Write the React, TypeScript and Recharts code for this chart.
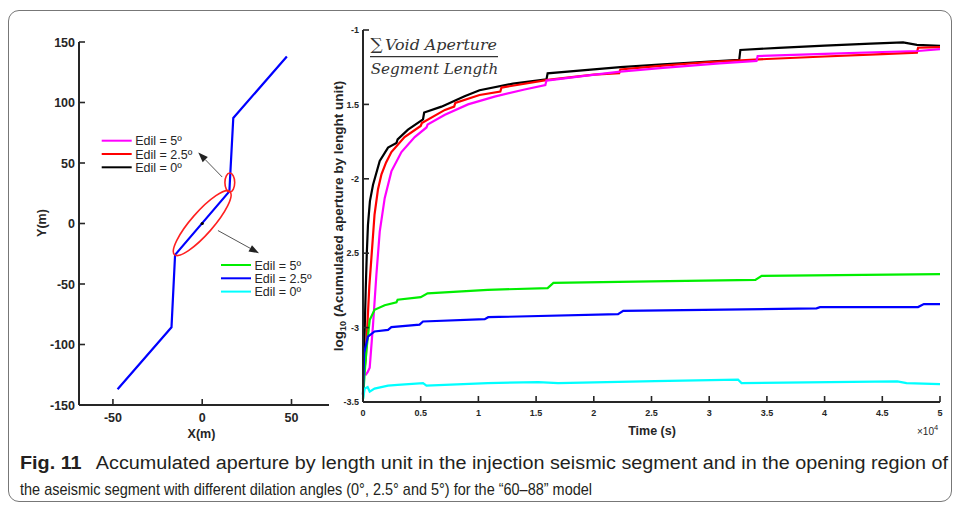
import { LineChart, Line, XAxis, YAxis, ReferenceDot, ReferenceLine } from "recharts";

const INK = "#262626";
const SANS = "'Liberation Sans', Arial, sans-serif";
const TICK_LEN = 6;

// plan view of the fault trace (m)
const faultX = [-47.4, -17.2, -15.2, 15.2, 17.4, 47.4];
const faultY = [-137, -85.7, -25.9, 26.5, 87.2, 138];
const faultTicksX = [-50, 0, 50];
const faultTicksY = [-150, -100, -50, 0, 50, 100, 150];

// time axis in units of 1e4 s
const timeTicks = [0, 0.5, 1, 1.5, 2, 2.5, 3, 3.5, 4, 4.5, 5];
const apertureTicks = [-3.5, -3, -2.5, -2, -1.5, -1];
const apertureTickLabels = ["-3.5", "-3", "2.5", "-2", "1.5", "-1"];

// opening region of the aseismic segment
const opening0T = [0, 0.006, 0.015, 0.023, 0.033, 0.043, 0.06, 0.087, 0.145, 0.217, 0.29, 0.3, 0.39, 0.52, 0.53, 0.68, 0.88, 1.01, 1.3, 1.59, 1.6, 2.0, 2.23, 2.6, 3.0, 3.26, 3.27, 3.6, 4.0, 4.4, 4.68, 4.8, 5.0];
const opening0V = [-3.45, -3.3, -3.0, -2.76, -2.5, -2.31, -2.15, -2.04, -1.88, -1.79, -1.76, -1.735, -1.67, -1.6, -1.555, -1.515, -1.445, -1.405, -1.36, -1.331, -1.291, -1.265, -1.25, -1.23, -1.212, -1.2, -1.134, -1.12, -1.105, -1.092, -1.083, -1.1, -1.107];

const opening25T = [0.01, 0.025, 0.038, 0.055, 0.073, 0.1, 0.13, 0.16, 0.2, 0.246, 0.36, 0.5, 0.51, 0.71, 0.79, 0.8, 1.01, 1.19, 1.2, 1.6, 2.0, 2.22, 2.23, 2.6, 3.0, 3.5, 4.0, 4.5, 4.8, 4.81, 5.0];
const opening25V = [-3.3, -3.2, -2.98, -2.72, -2.53, -2.24, -2.07, -1.97, -1.89, -1.82, -1.72, -1.645, -1.625, -1.537, -1.515, -1.49, -1.437, -1.414, -1.387, -1.335, -1.3, -1.29, -1.265, -1.24, -1.215, -1.195, -1.178, -1.162, -1.152, -1.119, -1.115];

const opening5T = [0.02, 0.04, 0.058, 0.07, 0.087, 0.116, 0.145, 0.188, 0.246, 0.333, 0.448, 0.55, 0.56, 0.71, 0.91, 1.14, 1.4, 1.58, 1.59, 1.9, 2.23, 2.6, 3.09, 3.41, 3.42, 4.0, 4.5, 4.81, 5.0];
const opening5V = [-3.32, -3.3, -3.27, -3.15, -2.98, -2.645, -2.355, -2.13, -1.95, -1.82, -1.72, -1.655, -1.635, -1.57, -1.5, -1.448, -1.4, -1.37, -1.34, -1.31, -1.28, -1.255, -1.224, -1.208, -1.175, -1.16, -1.148, -1.141, -1.128];

// injection seismic segment
const injection5T = [0, 0.015, 0.03, 0.058, 0.1, 0.188, 0.29, 0.3, 0.5, 0.56, 1.08, 1.6, 1.65, 2.5, 3.4, 3.455, 5.0];
const injection5V = [-3.48, -3.3, -3.15, -2.95, -2.88, -2.85, -2.83, -2.813, -2.795, -2.77, -2.746, -2.735, -2.7, -2.69, -2.679, -2.652, -2.641];

const injection25T = [0, 0.01, 0.043, 0.1, 0.217, 0.246, 0.49, 0.52, 1.055, 1.085, 2.21, 2.255, 3.93, 3.96, 4.81, 4.86, 5.0];
const injection25V = [-3.45, -3.17, -3.06, -3.026, -3.015, -2.997, -2.98, -2.959, -2.943, -2.93, -2.91, -2.887, -2.871, -2.863, -2.862, -2.842, -2.842];

const injection0T = [0, 0.015, 0.04, 0.058, 0.1, 0.217, 0.3, 0.52, 0.55, 1.08, 1.52, 1.69, 2.53, 3.25, 3.28, 4.63, 4.71, 5.0];
const injection0V = [-3.48, -3.41, -3.4, -3.43, -3.41, -3.39, -3.385, -3.373, -3.39, -3.373, -3.366, -3.373, -3.36, -3.35, -3.373, -3.362, -3.373, -3.38];

const zip = (t: number[], v: number[]) => t.map((tt, i) => ({ t: tt, v: v[i] }));

const apertureSeries = [
  { key: "opening0", color: "#000000", data: zip(opening0T, opening0V) },
  { key: "opening25", color: "#ff0000", data: zip(opening25T, opening25V) },
  { key: "opening5", color: "#ff00ff", data: zip(opening5T, opening5V) },
  { key: "injection5", color: "#00ee00", data: zip(injection5T, injection5V) },
  { key: "injection25", color: "#0000ff", data: zip(injection25T, injection25V) },
  { key: "injection0", color: "#00ffff", data: zip(injection0T, injection0V) },
];

const openingLegend = [
  { label: "Edil = 5º", color: "#ff00ff" },
  { label: "Edil = 2.5º", color: "#ff0000" },
  { label: "Edil = 0º", color: "#000000" },
];
const injectionLegend = [
  { label: "Edil = 5º", color: "#00ee00" },
  { label: "Edil = 2.5º", color: "#0000ff" },
  { label: "Edil = 0º", color: "#00ffff" },
];

const faultData = faultX.map((x, i) => ({ x, y: faultY[i] }));

// ticks drawn inward, MATLAB style (axis tickLine is off, tickSize only shifts the label)
function yTick(size: number, gap: number, labelOf: (v: number) => string) {
  return (p: any) => {
    const ax = p.x + gap + TICK_LEN;
    return (
      <g>
        <line x1={ax} x2={ax + TICK_LEN} y1={p.y} y2={p.y} stroke={INK} strokeWidth={1.6} />
        <text x={ax - gap} y={p.y} dy="0.36em" textAnchor="end" fontSize={size} fontWeight={700} fontFamily={SANS} fill={INK}>
          {labelOf(p.payload.value)}
        </text>
      </g>
    );
  };
}

function xTick(size: number, drop: number) {
  return (p: any) => {
    const ay = p.y - TICK_LEN;
    return (
      <g>
        <line x1={p.x} x2={p.x} y1={ay} y2={ay - TICK_LEN} stroke={INK} strokeWidth={1.6} />
        <text x={p.x} y={ay + drop} textAnchor="middle" fontSize={size} fontWeight={700} fontFamily={SANS} fill={INK}>
          {String(p.payload.value)}
        </text>
      </g>
    );
  };
}

function arrow(p: any) {
  const { x1, y1, x2, y2 } = p;
  const a = Math.atan2(y2 - y1, x2 - x1);
  const L = 10;
  const W = 3.6;
  const bx = x2 - L * Math.cos(a);
  const by = y2 - L * Math.sin(a);
  const s = Math.sin(a);
  const c = Math.cos(a);
  const pts = `${x2},${y2} ${bx + W * s},${by - W * c} ${bx - W * s},${by + W * c}`;
  return (
    <g>
      <line x1={x1} y1={y1} x2={bx} y2={by} stroke="#555" strokeWidth={1} />
      <polygon points={pts} fill="#222" />
    </g>
  );
}

const ellipse = (rx: number, ry: number, angle: number) => (p: any) => (
  <ellipse
    cx={p.cx}
    cy={p.cy}
    rx={rx}
    ry={ry}
    transform={`rotate(${angle} ${p.cx} ${p.cy})`}
    fill="none"
    stroke="#ff2020"
    strokeWidth={1.6}
  />
);

function FaultPlan() {
  return (
    <LineChart width={340} height={440} data={faultData} margin={{ top: 42, right: 11, bottom: 5, left: 0 }}>
      <XAxis
        dataKey="x"
        type="number"
        domain={[-69, 71]}
        ticks={faultTicksX}
        interval={0}
        height={30}
        tickSize={TICK_LEN}
        tickMargin={0}
        tickLine={false}
        axisLine={{ stroke: INK, strokeWidth: 2 }}
        tick={xTick(12.5, 16.5)}
      />
      <YAxis
        dataKey="y"
        type="number"
        domain={[-150, 150]}
        ticks={faultTicksY}
        interval={0}
        width={79}
        tickSize={TICK_LEN}
        tickMargin={4}
        tickLine={false}
        axisLine={{ stroke: INK, strokeWidth: 2 }}
        tick={yTick(12.5, 4, (v) => String(v))}
      />
      <Line dataKey="y" stroke="#0000ff" strokeWidth={2.2} dot={false} isAnimationActive={false} />
      <ReferenceDot x={0} y={0.3} r={0} shape={ellipse(42, 11, -48.8)} />
      <ReferenceDot x={15.45} y={33.85} r={0} shape={ellipse(4.9, 9.5, 0)} />
      <ReferenceDot x={0} y={0} r={1.6} fill="#000" stroke="none" />
      <ReferenceLine segment={[{ x: 11.2, y: 38.4 }, { x: -2.2, y: 58.7 }]} shape={arrow} />
      <ReferenceLine segment={[{ x: 8.8, y: -5.8 }, { x: 31.8, y: -24.5 }]} shape={arrow} />
    </LineChart>
  );
}

function AperturePlot() {
  return (
    <LineChart width={620} height={440} margin={{ top: 30, right: 10, bottom: 8, left: 0 }}>
      <XAxis
        dataKey="t"
        type="number"
        domain={[0, 5]}
        ticks={timeTicks}
        interval={0}
        height={30}
        tickSize={TICK_LEN}
        tickMargin={0}
        tickLine={false}
        axisLine={{ stroke: INK, strokeWidth: 2 }}
        tick={xTick(9, 14)}
        allowDuplicatedCategory={false}
      />
      <YAxis
        dataKey="v"
        type="number"
        domain={[-3.5, -1]}
        ticks={apertureTicks}
        interval={0}
        width={33}
        tickSize={TICK_LEN}
        tickMargin={4}
        tickLine={false}
        axisLine={{ stroke: INK, strokeWidth: 2 }}
        tick={yTick(9, 4, (v) => apertureTickLabels[apertureTicks.indexOf(v)] ?? String(v))}
      />
      {apertureSeries.map((s) => (
        <Line
          key={s.key}
          data={s.data}
          dataKey="v"
          type="linear"
          stroke={s.color}
          strokeWidth={2.2}
          dot={false}
          isAnimationActive={false}
        />
      ))}
    </LineChart>
  );
}

function LegendBlock({ x, y, items }: { x: number; y: number; items: { label: string; color: string }[] }) {
  return (
    <g>
      {items.map((it, i) => (
        <g key={it.label}>
          <line x1={x} x2={x + 30} y1={y + i * 13.3} y2={y + i * 13.3} stroke={it.color} strokeWidth={2} />
          <text x={x + 33.5} y={y + i * 13.3 + 4.5} fontSize={12.5} fontFamily={SANS} fill={INK}>
            {it.label}
          </text>
        </g>
      ))}
    </g>
  );
}

const CAPTION_FONT = "'Liberation Sans Narrow', 'Liberation Sans', sans-serif";

export default function App() {
  return (
    <div style={{ position: "absolute", left: 0, top: 0, width: 956, height: 506, background: "#fff", overflow: "hidden" }}>
      <div
        style={{
          position: "absolute",
          left: 8,
          top: 10,
          width: 942,
          height: 490,
          border: "1px solid #777",
          borderRadius: 11,
        }}
      />
      <div style={{ position: "absolute", left: 0, top: 0 }}>
        <FaultPlan />
      </div>
      <div style={{ position: "absolute", left: 330, top: 0 }}>
        <AperturePlot />
      </div>
      <svg width={956} height={506} style={{ position: "absolute", left: 0, top: 0, pointerEvents: "none" }}>
        {/* axis titles */}
        <text x={201.5} y={437.5} textAnchor="middle" fontSize={12.5} fontWeight={700} fontFamily={SANS} fill={INK}>
          X(m)
        </text>
        <text transform="translate(45.5,223) rotate(-90)" textAnchor="middle" fontSize={12.5} fontWeight={700} fontFamily={SANS} fill={INK}>
          Y(m)
        </text>
        <text x={652} y={434.5} textAnchor="middle" fontSize={12.5} fontWeight={700} fontFamily={SANS} fill={INK}>
          Time (s)
        </text>
        <text x={917} y={435} fontSize={10} fontFamily={SANS} fill={INK}>
          ×10<tspan dy={-5} fontSize={7.5}>4</tspan>
        </text>
        <text transform="translate(342.5,216) rotate(-90)" textAnchor="middle" fontSize={13.5} fontWeight={700} fontFamily={SANS} fill={INK}>
          log<tspan fontSize={9} dy={3}>10</tspan>
          <tspan dy={-3}> (Acumulated aperture by lenght unit)</tspan>
        </text>

        {/* ratio used for the accumulated aperture */}
        <text x={370.5} y={50} fontSize={17} fontFamily="'DejaVu Serif', serif" fill="#333">
          ∑
        </text>
        <text x={385} y={49.5} fontSize={15} fontStyle="italic" fontFamily="'DejaVu Serif', serif" fill="#333" textLength={112} lengthAdjust="spacingAndGlyphs">
          Void Aperture
        </text>
        <line x1={370} x2={498} y1={56.7} y2={56.7} stroke="#333" strokeWidth={1.3} />
        <text x={370.7} y={73.5} fontSize={15} fontStyle="italic" fontFamily="'DejaVu Serif', serif" fill="#333" textLength={127.5} lengthAdjust="spacingAndGlyphs">
          Segment Length
        </text>

        <LegendBlock x={101.7} y={140.7} items={openingLegend} />
        <LegendBlock x={221} y={265} items={injectionLegend} />

        {/* caption */}
        <text x={20} y={469} fontSize={18} fontFamily={CAPTION_FONT} fill="#231f20" textLength={928} lengthAdjust="spacingAndGlyphs">
          <tspan fontWeight={700}>Fig. 11</tspan>
          {"\u2002 Accumulated aperture by length unit in the injection seismic segment and in the opening region of"}
        </text>
        <text x={20} y={495} fontSize={17} fontFamily={CAPTION_FONT} fill="#231f20" textLength={572} lengthAdjust="spacingAndGlyphs">
          the aseismic segment with different dilation angles (0°, 2.5° and 5°) for the “60–88” model
        </text>
      </svg>
    </div>
  );
}
